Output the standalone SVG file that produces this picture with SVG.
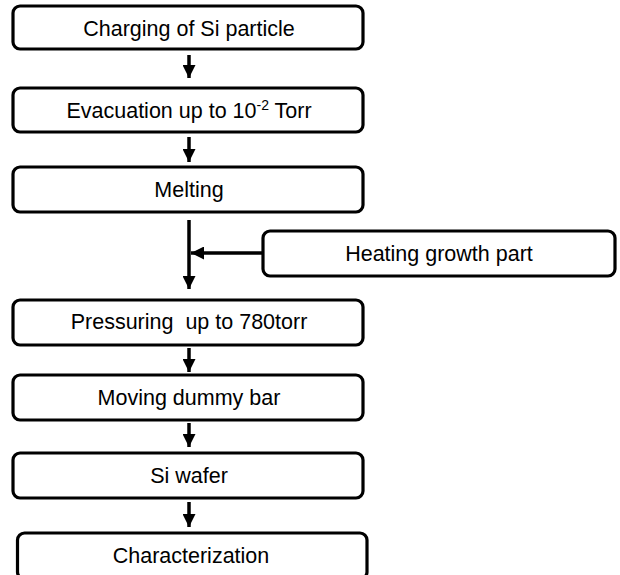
<svg xmlns="http://www.w3.org/2000/svg" width="620" height="575" viewBox="0 0 620 575">
<style>
.box{fill:#fff;stroke:#000;stroke-width:3.2}
.t{font-family:"Liberation Sans",Arial,sans-serif;font-size:21.5px;fill:#000;text-anchor:middle;white-space:pre}
.c{stroke:#000;stroke-width:3.5;fill:none}
</style>
<defs>
<marker id="ah" viewBox="0 0 13 13" refX="13" refY="6.5" markerWidth="13" markerHeight="13" markerUnits="userSpaceOnUse" orient="auto">
<path d="M0,0 L13,6.5 L0,13 Z" fill="#000"/>
</marker>
</defs>
<rect width="620" height="575" fill="#fff"/>
<g id="n1"><rect class="box" x="13" y="6" width="350" height="43" rx="7"/><text class="t" x="189" y="36">Charging of Si particle</text></g>
<g id="n2"><rect class="box" x="13" y="88" width="350" height="44" rx="7"/><text class="t" x="189" y="118">Evacuation up to 10<tspan font-size="14" dy="-8">-2</tspan><tspan dy="8"> Torr</tspan></text></g>
<g id="n3"><rect class="box" x="13" y="167" width="350" height="45" rx="7"/><text class="t" x="189" y="197">Melting</text></g>
<g id="n4"><rect class="box" x="263" y="231" width="352" height="45" rx="7"/><text class="t" x="439" y="261">Heating growth part</text></g>
<g id="n5"><rect class="box" x="13" y="300" width="350" height="45" rx="7"/><text class="t" x="189" y="329" xml:space="preserve">Pressuring  up to 780torr</text></g>
<g id="n6"><rect class="box" x="13" y="375" width="350" height="45" rx="7"/><text class="t" x="189" y="405">Moving dummy bar</text></g>
<g id="n7"><rect class="box" x="13" y="453" width="350" height="45" rx="7"/><text class="t" x="189" y="483">Si wafer</text></g>
<g id="n8"><rect class="box" x="17.5" y="533" width="349.5" height="46" rx="7"/><text class="t" x="191" y="563">Characterization</text></g>
<g id="connectors">
<line class="c" x1="189" y1="55" x2="189" y2="78" marker-end="url(#ah)"/>
<line class="c" x1="189" y1="137" x2="189" y2="162" marker-end="url(#ah)"/>
<line class="c" x1="189" y1="220" x2="189" y2="289" marker-end="url(#ah)"/>
<line class="c" x1="263" y1="253" x2="191" y2="253" marker-end="url(#ah)"/>
<line class="c" x1="189" y1="348" x2="189" y2="372" marker-end="url(#ah)"/>
<line class="c" x1="189" y1="423" x2="189" y2="447" marker-end="url(#ah)"/>
<line class="c" x1="189" y1="502" x2="189" y2="527" marker-end="url(#ah)"/>
</g>
</svg>
